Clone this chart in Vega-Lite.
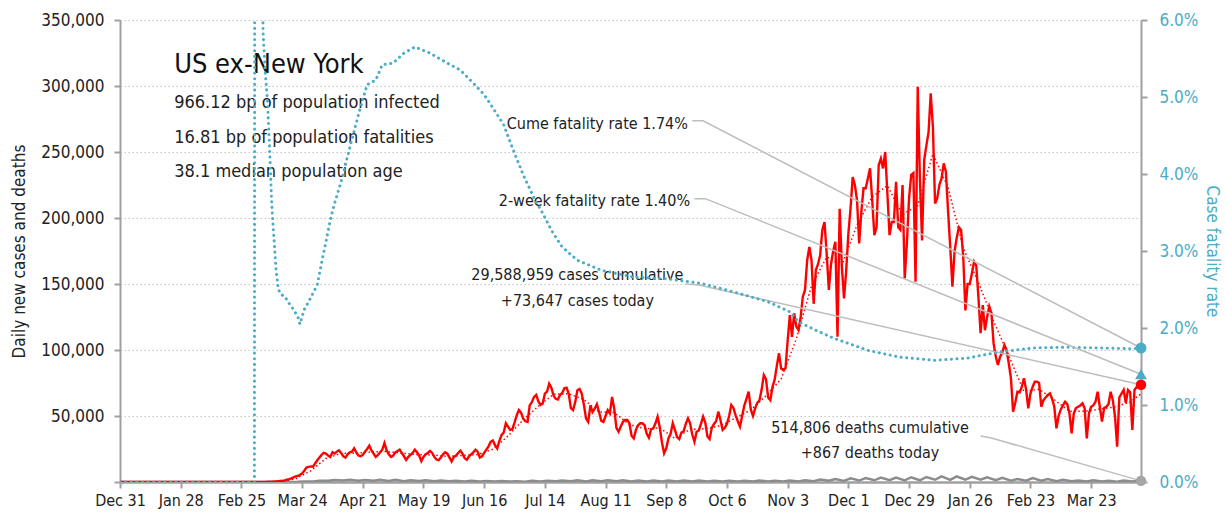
{
  "$schema": "https://vega.github.io/schema/vega-lite/v6.json",
  "width": 1021,
  "height": 462,
  "autosize": {"type": "none"},
  "padding": {"left": 120, "top": 20, "right": 84, "bottom": 40},
  "background": "white",
  "config": {
    "font": "DejaVu Sans Condensed, Liberation Sans, sans-serif",
    "view": {"stroke": null},
    "axis": {
      "labelFont": "DejaVu Sans Condensed, Liberation Sans, sans-serif",
      "titleFont": "DejaVu Sans Condensed, Liberation Sans, sans-serif",
      "labelFontSize": 17,
      "titleFontSize": 17,
      "titleFontWeight": "normal",
      "labelColor": "#222222",
      "titleColor": "#222222",
      "domainColor": "#a0a0a0",
      "tickColor": "#a0a0a0",
      "domainWidth": 2,
      "tickWidth": 2,
      "tickSize": 6
    }
  },
  "datasets": {
    "cases": [
      {"d":"2019-12-31","v":0},{"d":"2020-01-14","v":0},{"d":"2020-01-28","v":0},{"d":"2020-02-11","v":0},{"d":"2020-02-25","v":0},
      {"d":"2020-03-01","v":0},{"d":"2020-03-02","v":10},{"d":"2020-03-03","v":20},{"d":"2020-03-04","v":30},{"d":"2020-03-05","v":40},{"d":"2020-03-06","v":60},{"d":"2020-03-07","v":80},
      {"d":"2020-03-08","v":150},{"d":"2020-03-09","v":200},{"d":"2020-03-10","v":300},{"d":"2020-03-11","v":400},{"d":"2020-03-12","v":500},{"d":"2020-03-13","v":650},{"d":"2020-03-14","v":800},
      {"d":"2020-03-15","v":900},{"d":"2020-03-16","v":1200},{"d":"2020-03-17","v":1700},{"d":"2020-03-18","v":2200},{"d":"2020-03-19","v":2800},{"d":"2020-03-20","v":3500},{"d":"2020-03-21","v":4200},
      {"d":"2020-03-22","v":4600},{"d":"2020-03-23","v":5500},{"d":"2020-03-24","v":6500},{"d":"2020-03-25","v":8500},{"d":"2020-03-26","v":11000},{"d":"2020-03-27","v":11500},{"d":"2020-03-28","v":11800},
      {"d":"2020-03-29","v":11600},{"d":"2020-03-30","v":14000},{"d":"2020-03-31","v":16500},{"d":"2020-04-01","v":18500},{"d":"2020-04-02","v":20500},{"d":"2020-04-03","v":22000},{"d":"2020-04-04","v":21500},
      {"d":"2020-04-05","v":20000},{"d":"2020-04-06","v":19000},{"d":"2020-04-07","v":22500},{"d":"2020-04-08","v":21500},{"d":"2020-04-09","v":23000},{"d":"2020-04-10","v":24000},{"d":"2020-04-11","v":22000},
      {"d":"2020-04-12","v":19500},{"d":"2020-04-13","v":18500},{"d":"2020-04-14","v":21000},{"d":"2020-04-15","v":22500},{"d":"2020-04-16","v":23000},{"d":"2020-04-17","v":25500},{"d":"2020-04-18","v":22500},
      {"d":"2020-04-19","v":20000},{"d":"2020-04-20","v":19500},{"d":"2020-04-21","v":20500},{"d":"2020-04-22","v":23000},{"d":"2020-04-23","v":25000},{"d":"2020-04-24","v":27500},{"d":"2020-04-25","v":24000},
      {"d":"2020-04-26","v":21500},{"d":"2020-04-27","v":19000},{"d":"2020-04-28","v":20500},{"d":"2020-04-29","v":22500},{"d":"2020-04-30","v":24500},{"d":"2020-05-01","v":29500},{"d":"2020-05-02","v":24000},
      {"d":"2020-05-03","v":21000},{"d":"2020-05-04","v":19000},{"d":"2020-05-05","v":20000},{"d":"2020-05-06","v":22500},{"d":"2020-05-07","v":23500},{"d":"2020-05-08","v":24500},{"d":"2020-05-09","v":22000},
      {"d":"2020-05-10","v":19500},{"d":"2020-05-11","v":16800},{"d":"2020-05-12","v":19000},{"d":"2020-05-13","v":20500},{"d":"2020-05-14","v":22000},{"d":"2020-05-15","v":24500},{"d":"2020-05-16","v":22500},
      {"d":"2020-05-17","v":20000},{"d":"2020-05-18","v":15800},{"d":"2020-05-19","v":19000},{"d":"2020-05-20","v":21000},{"d":"2020-05-21","v":22000},{"d":"2020-05-22","v":23500},{"d":"2020-05-23","v":22000},
      {"d":"2020-05-24","v":19000},{"d":"2020-05-25","v":17000},{"d":"2020-05-26","v":16500},{"d":"2020-05-27","v":18500},{"d":"2020-05-28","v":21000},{"d":"2020-05-29","v":22500},{"d":"2020-05-30","v":21500},
      {"d":"2020-05-31","v":18500},{"d":"2020-06-01","v":15600},{"d":"2020-06-02","v":19000},{"d":"2020-06-03","v":20000},{"d":"2020-06-04","v":22000},{"d":"2020-06-05","v":23800},{"d":"2020-06-06","v":21500},
      {"d":"2020-06-07","v":18000},{"d":"2020-06-08","v":16800},{"d":"2020-06-09","v":19500},{"d":"2020-06-10","v":21000},{"d":"2020-06-11","v":22500},{"d":"2020-06-12","v":24500},{"d":"2020-06-13","v":23000},
      {"d":"2020-06-14","v":18500},{"d":"2020-06-15","v":19500},{"d":"2020-06-16","v":22000},{"d":"2020-06-17","v":24500},{"d":"2020-06-18","v":27000},{"d":"2020-06-19","v":30500},{"d":"2020-06-20","v":31500},
      {"d":"2020-06-21","v":28000},{"d":"2020-06-22","v":25500},{"d":"2020-06-23","v":31000},{"d":"2020-06-24","v":35500},{"d":"2020-06-25","v":37500},{"d":"2020-06-26","v":44500},{"d":"2020-06-27","v":42000},
      {"d":"2020-06-28","v":39500},{"d":"2020-06-29","v":40000},{"d":"2020-06-30","v":45000},{"d":"2020-07-01","v":50500},{"d":"2020-07-02","v":54500},{"d":"2020-07-03","v":52500},{"d":"2020-07-04","v":48000},
      {"d":"2020-07-05","v":46000},{"d":"2020-07-06","v":45500},{"d":"2020-07-07","v":58000},{"d":"2020-07-08","v":60500},{"d":"2020-07-09","v":64500},{"d":"2020-07-10","v":66000},{"d":"2020-07-11","v":61000},
      {"d":"2020-07-12","v":58500},{"d":"2020-07-13","v":59500},{"d":"2020-07-14","v":67000},{"d":"2020-07-15","v":68500},{"d":"2020-07-16","v":74500},{"d":"2020-07-17","v":71500},{"d":"2020-07-18","v":65500},
      {"d":"2020-07-19","v":63000},{"d":"2020-07-20","v":62500},{"d":"2020-07-21","v":66000},{"d":"2020-07-22","v":67500},{"d":"2020-07-23","v":71000},{"d":"2020-07-24","v":71500},{"d":"2020-07-25","v":67000},
      {"d":"2020-07-26","v":56000},{"d":"2020-07-27","v":54500},{"d":"2020-07-28","v":60500},{"d":"2020-07-29","v":69500},{"d":"2020-07-30","v":70500},{"d":"2020-07-31","v":67000},{"d":"2020-08-01","v":58500},
      {"d":"2020-08-02","v":48000},{"d":"2020-08-03","v":45500},{"d":"2020-08-04","v":58000},{"d":"2020-08-05","v":53000},{"d":"2020-08-06","v":55500},{"d":"2020-08-07","v":59000},{"d":"2020-08-08","v":53000},
      {"d":"2020-08-09","v":46500},{"d":"2020-08-10","v":45500},{"d":"2020-08-11","v":50000},{"d":"2020-08-12","v":54500},{"d":"2020-08-13","v":52000},{"d":"2020-08-14","v":64500},{"d":"2020-08-15","v":55500},
      {"d":"2020-08-16","v":41000},{"d":"2020-08-17","v":38000},{"d":"2020-08-18","v":42000},{"d":"2020-08-19","v":45500},{"d":"2020-08-20","v":47000},{"d":"2020-08-21","v":47000},{"d":"2020-08-22","v":44500},
      {"d":"2020-08-23","v":35000},{"d":"2020-08-24","v":33000},{"d":"2020-08-25","v":39500},{"d":"2020-08-26","v":43000},{"d":"2020-08-27","v":44500},{"d":"2020-08-28","v":44500},{"d":"2020-08-29","v":43000},
      {"d":"2020-08-30","v":36500},{"d":"2020-08-31","v":33500},{"d":"2020-09-01","v":40000},{"d":"2020-09-02","v":40500},{"d":"2020-09-03","v":44500},{"d":"2020-09-04","v":49500},{"d":"2020-09-05","v":41500},
      {"d":"2020-09-06","v":30000},{"d":"2020-09-07","v":21700},{"d":"2020-09-08","v":25500},{"d":"2020-09-09","v":33000},{"d":"2020-09-10","v":36500},{"d":"2020-09-11","v":44500},{"d":"2020-09-12","v":39500},
      {"d":"2020-09-13","v":34000},{"d":"2020-09-14","v":32500},{"d":"2020-09-15","v":37500},{"d":"2020-09-16","v":38500},{"d":"2020-09-17","v":44000},{"d":"2020-09-18","v":48200},{"d":"2020-09-19","v":44500},
      {"d":"2020-09-20","v":36000},{"d":"2020-09-21","v":30500},{"d":"2020-09-22","v":38000},{"d":"2020-09-23","v":39000},{"d":"2020-09-24","v":44000},{"d":"2020-09-25","v":49500},{"d":"2020-09-26","v":45000},
      {"d":"2020-09-27","v":34500},{"d":"2020-09-28","v":32500},{"d":"2020-09-29","v":41000},{"d":"2020-09-30","v":44000},{"d":"2020-10-01","v":46000},{"d":"2020-10-02","v":53300},{"d":"2020-10-03","v":47000},
      {"d":"2020-10-04","v":39400},{"d":"2020-10-05","v":41000},{"d":"2020-10-06","v":44000},{"d":"2020-10-07","v":50000},{"d":"2020-10-08","v":58300},{"d":"2020-10-09","v":56000},{"d":"2020-10-10","v":50500},
      {"d":"2020-10-11","v":46000},{"d":"2020-10-12","v":41900},{"d":"2020-10-13","v":50000},{"d":"2020-10-14","v":58000},{"d":"2020-10-15","v":63000},{"d":"2020-10-16","v":68400},{"d":"2020-10-17","v":55000},
      {"d":"2020-10-18","v":50000},{"d":"2020-10-19","v":55800},{"d":"2020-10-20","v":60000},{"d":"2020-10-21","v":62000},{"d":"2020-10-22","v":70000},{"d":"2020-10-23","v":81000},{"d":"2020-10-24","v":78000},
      {"d":"2020-10-25","v":64000},{"d":"2020-10-26","v":62000},{"d":"2020-10-27","v":72000},{"d":"2020-10-28","v":77500},{"d":"2020-10-29","v":88000},{"d":"2020-10-30","v":97500},{"d":"2020-10-31","v":86000},
      {"d":"2020-11-01","v":84800},{"d":"2020-11-02","v":86000},{"d":"2020-11-03","v":107000},{"d":"2020-11-04","v":126500},{"d":"2020-11-05","v":110000},{"d":"2020-11-06","v":127800},{"d":"2020-11-07","v":117700},
      {"d":"2020-11-08","v":115000},{"d":"2020-11-09","v":125000},{"d":"2020-11-10","v":140400},{"d":"2020-11-11","v":145500},{"d":"2020-11-12","v":168000},{"d":"2020-11-13","v":178000},{"d":"2020-11-14","v":168000},
      {"d":"2020-11-15","v":135000},{"d":"2020-11-16","v":160600},{"d":"2020-11-17","v":165000},{"d":"2020-11-18","v":172000},{"d":"2020-11-19","v":190900},{"d":"2020-11-20","v":197000},{"d":"2020-11-21","v":173000},
      {"d":"2020-11-22","v":145500},{"d":"2020-11-23","v":165000},{"d":"2020-11-24","v":175000},{"d":"2020-11-25","v":182000},{"d":"2020-11-26","v":110000},{"d":"2020-11-27","v":207000},{"d":"2020-11-28","v":163000},
      {"d":"2020-11-29","v":139000},{"d":"2020-11-30","v":160000},{"d":"2020-12-01","v":188000},{"d":"2020-12-02","v":207000},{"d":"2020-12-03","v":231000},{"d":"2020-12-04","v":225000},{"d":"2020-12-05","v":213600},
      {"d":"2020-12-06","v":180800},{"d":"2020-12-07","v":205000},{"d":"2020-12-08","v":222500},{"d":"2020-12-09","v":222500},{"d":"2020-12-10","v":230000},{"d":"2020-12-11","v":237600},{"d":"2020-12-12","v":213600},
      {"d":"2020-12-13","v":187000},{"d":"2020-12-14","v":193000},{"d":"2020-12-15","v":240000},{"d":"2020-12-16","v":245000},{"d":"2020-12-17","v":237600},{"d":"2020-12-18","v":250000},{"d":"2020-12-19","v":218700},
      {"d":"2020-12-20","v":187000},{"d":"2020-12-21","v":197000},{"d":"2020-12-22","v":197000},{"d":"2020-12-23","v":227500},{"d":"2020-12-24","v":193000},{"d":"2020-12-25","v":191000},{"d":"2020-12-26","v":225000},
      {"d":"2020-12-27","v":154000},{"d":"2020-12-28","v":181000},{"d":"2020-12-29","v":215000},{"d":"2020-12-30","v":232600},{"d":"2020-12-31","v":234000},{"d":"2021-01-01","v":151700},{"d":"2021-01-02","v":299500},
      {"d":"2021-01-03","v":230000},{"d":"2021-01-04","v":183000},{"d":"2021-01-05","v":244000},{"d":"2021-01-06","v":255000},{"d":"2021-01-07","v":265000},{"d":"2021-01-08","v":294500},{"d":"2021-01-09","v":269000},
      {"d":"2021-01-10","v":211000},{"d":"2021-01-11","v":215000},{"d":"2021-01-12","v":225000},{"d":"2021-01-13","v":230000},{"d":"2021-01-14","v":241400},{"d":"2021-01-15","v":235000},{"d":"2021-01-16","v":205000},
      {"d":"2021-01-17","v":178000},{"d":"2021-01-18","v":148000},{"d":"2021-01-19","v":175000},{"d":"2021-01-20","v":185000},{"d":"2021-01-21","v":193000},{"d":"2021-01-22","v":191000},{"d":"2021-01-23","v":170700},
      {"d":"2021-01-24","v":130000},{"d":"2021-01-25","v":150000},{"d":"2021-01-26","v":150000},{"d":"2021-01-27","v":158000},{"d":"2021-01-28","v":166900},{"d":"2021-01-29","v":164000},{"d":"2021-01-30","v":140000},
      {"d":"2021-01-31","v":112700},{"d":"2021-02-01","v":134000},{"d":"2021-02-02","v":115000},{"d":"2021-02-03","v":125000},{"d":"2021-02-04","v":133000},{"d":"2021-02-05","v":128000},{"d":"2021-02-06","v":105000},
      {"d":"2021-02-07","v":95000},{"d":"2021-02-08","v":88600},{"d":"2021-02-09","v":95000},{"d":"2021-02-10","v":98000},{"d":"2021-02-11","v":103800},{"d":"2021-02-12","v":100000},{"d":"2021-02-13","v":90000},
      {"d":"2021-02-14","v":78600},{"d":"2021-02-15","v":53300},{"d":"2021-02-16","v":60000},{"d":"2021-02-17","v":68400},{"d":"2021-02-18","v":68000},{"d":"2021-02-19","v":72000},{"d":"2021-02-20","v":78600},
      {"d":"2021-02-21","v":70000},{"d":"2021-02-22","v":55800},{"d":"2021-02-23","v":67000},{"d":"2021-02-24","v":72000},{"d":"2021-02-25","v":76000},{"d":"2021-02-26","v":76000},{"d":"2021-02-27","v":75000},
      {"d":"2021-02-28","v":57000},{"d":"2021-03-01","v":62000},{"d":"2021-03-02","v":64000},{"d":"2021-03-03","v":66000},{"d":"2021-03-04","v":67200},{"d":"2021-03-05","v":63000},{"d":"2021-03-06","v":57000},
      {"d":"2021-03-07","v":40700},{"d":"2021-03-08","v":50000},{"d":"2021-03-09","v":55000},{"d":"2021-03-10","v":58000},{"d":"2021-03-11","v":60800},{"d":"2021-03-12","v":59000},{"d":"2021-03-13","v":52000},
      {"d":"2021-03-14","v":36900},{"d":"2021-03-15","v":52000},{"d":"2021-03-16","v":56000},{"d":"2021-03-17","v":57000},{"d":"2021-03-18","v":58000},{"d":"2021-03-19","v":59600},{"d":"2021-03-20","v":55800},
      {"d":"2021-03-21","v":33100},{"d":"2021-03-22","v":52000},{"d":"2021-03-23","v":57000},{"d":"2021-03-24","v":58000},{"d":"2021-03-25","v":60800},{"d":"2021-03-26","v":68400},{"d":"2021-03-27","v":57000},
      {"d":"2021-03-28","v":45700},{"d":"2021-03-29","v":56000},{"d":"2021-03-30","v":57000},{"d":"2021-03-31","v":59000},{"d":"2021-04-01","v":68400},{"d":"2021-04-02","v":62000},{"d":"2021-04-03","v":50000},
      {"d":"2021-04-04","v":26800},{"d":"2021-04-05","v":64000},{"d":"2021-04-06","v":67000},{"d":"2021-04-07","v":69700},{"d":"2021-04-08","v":60000},{"d":"2021-04-09","v":69700},{"d":"2021-04-10","v":68000},
      {"d":"2021-04-11","v":39400},{"d":"2021-04-12","v":69700},{"d":"2021-04-13","v":72000},{"d":"2021-04-14","v":74800},{"d":"2021-04-15","v":73647}
    ],
    "avg": [
      {"d":"2019-12-31","v":0},{"d":"2020-02-29","v":0},{"d":"2020-03-07","v":34},{"d":"2020-03-14","v":430},{"d":"2020-03-21","v":2360},{"d":"2020-03-28","v":8490},{"d":"2020-04-04","v":17800},{"d":"2020-04-11","v":21700},{"d":"2020-04-18","v":21800},{"d":"2020-04-25","v":22800},{"d":"2020-05-02","v":23100},{"d":"2020-05-09","v":21800},{"d":"2020-05-16","v":20700},{"d":"2020-05-23","v":20500},{"d":"2020-05-30","v":19400},{"d":"2020-06-06","v":20100},{"d":"2020-06-13","v":20800},{"d":"2020-06-20","v":24800},{"d":"2020-06-27","v":34900},{"d":"2020-07-04","v":47100},{"d":"2020-07-11","v":57400},{"d":"2020-07-18","v":66400},{"d":"2020-07-25","v":66900},{"d":"2020-08-01","v":62400},{"d":"2020-08-08","v":53100},{"d":"2020-08-15","v":52600},{"d":"2020-08-22","v":43600},{"d":"2020-08-29","v":40400},{"d":"2020-09-05","v":40900},{"d":"2020-09-12","v":33000},{"d":"2020-09-19","v":39900},{"d":"2020-09-26","v":40300},{"d":"2020-10-03","v":42600},{"d":"2020-10-10","v":48500},{"d":"2020-10-17","v":54600},{"d":"2020-10-24","v":65300},{"d":"2020-10-31","v":78100},{"d":"2020-11-07","v":108500},{"d":"2020-11-14","v":148600},{"d":"2020-11-21","v":170500},{"d":"2020-11-28","v":163900},{"d":"2020-12-05","v":194800},{"d":"2020-12-12","v":216000},{"d":"2020-12-19","v":224500},{"d":"2020-12-26","v":202500},{"d":"2021-01-02","v":209700},{"d":"2021-01-09","v":248600},{"d":"2021-01-16","v":223200},{"d":"2021-01-23","v":177200},{"d":"2021-01-30","v":151300},{"d":"2021-02-06","v":121800},{"d":"2021-02-13","v":95800},{"d":"2021-02-20","v":68400},{"d":"2021-02-27","v":70300},{"d":"2021-03-06","v":62300},{"d":"2021-03-13","v":53600},{"d":"2021-03-20","v":53600},{"d":"2021-03-27","v":55200},{"d":"2021-04-03","v":56900},{"d":"2021-04-10","v":60700},{"d":"2021-04-15","v":66700}
    ],
    "deaths": [
      {"d":"2019-12-31","v":0},{"d":"2020-03-01","v":0},{"d":"2020-03-08","v":5},{"d":"2020-03-15","v":20},{"d":"2020-03-18","v":60},{"d":"2020-03-22","v":120},{"d":"2020-03-25","v":300},{"d":"2020-03-29","v":450},{"d":"2020-04-01","v":900},{"d":"2020-04-05","v":900},{"d":"2020-04-08","v":1500},{"d":"2020-04-12","v":1100},{"d":"2020-04-15","v":1700},{"d":"2020-04-19","v":1000},{"d":"2020-04-22","v":1600},{"d":"2020-04-26","v":900},{"d":"2020-04-29","v":1700},{"d":"2020-05-03","v":800},{"d":"2020-05-06","v":1600},{"d":"2020-05-10","v":650},{"d":"2020-05-13","v":1400},{"d":"2020-05-17","v":700},{"d":"2020-05-20","v":1300},{"d":"2020-05-24","v":600},{"d":"2020-05-27","v":1100},{"d":"2020-05-31","v":550},{"d":"2020-06-03","v":900},{"d":"2020-06-07","v":450},{"d":"2020-06-10","v":850},{"d":"2020-06-14","v":350},{"d":"2020-06-17","v":700},{"d":"2020-06-21","v":300},{"d":"2020-06-24","v":700},{"d":"2020-06-28","v":300},{"d":"2020-07-01","v":650},{"d":"2020-07-05","v":250},{"d":"2020-07-08","v":850},{"d":"2020-07-12","v":450},{"d":"2020-07-15","v":950},{"d":"2020-07-19","v":550},{"d":"2020-07-22","v":1100},{"d":"2020-07-26","v":500},{"d":"2020-07-29","v":1400},{"d":"2020-08-02","v":450},{"d":"2020-08-05","v":1300},{"d":"2020-08-09","v":500},{"d":"2020-08-12","v":1400},{"d":"2020-08-16","v":500},{"d":"2020-08-19","v":1300},{"d":"2020-08-23","v":400},{"d":"2020-08-26","v":1200},{"d":"2020-08-30","v":400},{"d":"2020-09-02","v":1050},{"d":"2020-09-06","v":400},{"d":"2020-09-09","v":1100},{"d":"2020-09-13","v":400},{"d":"2020-09-16","v":1100},{"d":"2020-09-20","v":300},{"d":"2020-09-23","v":1050},{"d":"2020-09-27","v":300},{"d":"2020-09-30","v":950},{"d":"2020-10-04","v":350},{"d":"2020-10-07","v":900},{"d":"2020-10-11","v":400},{"d":"2020-10-14","v":950},{"d":"2020-10-18","v":400},{"d":"2020-10-21","v":1100},{"d":"2020-10-25","v":450},{"d":"2020-10-28","v":1000},{"d":"2020-11-01","v":400},{"d":"2020-11-04","v":1100},{"d":"2020-11-08","v":450},{"d":"2020-11-11","v":1400},{"d":"2020-11-15","v":600},{"d":"2020-11-18","v":1900},{"d":"2020-11-22","v":900},{"d":"2020-11-25","v":2200},{"d":"2020-11-29","v":800},{"d":"2020-12-02","v":2800},{"d":"2020-12-06","v":1100},{"d":"2020-12-09","v":3000},{"d":"2020-12-13","v":1300},{"d":"2020-12-16","v":3400},{"d":"2020-12-20","v":1400},{"d":"2020-12-23","v":3300},{"d":"2020-12-27","v":1200},{"d":"2020-12-30","v":3600},{"d":"2021-01-03","v":1300},{"d":"2021-01-06","v":3800},{"d":"2021-01-10","v":1700},{"d":"2021-01-13","v":4200},{"d":"2021-01-17","v":1600},{"d":"2021-01-20","v":4200},{"d":"2021-01-24","v":1800},{"d":"2021-01-27","v":3900},{"d":"2021-01-31","v":1800},{"d":"2021-02-03","v":3600},{"d":"2021-02-07","v":1300},{"d":"2021-02-10","v":3200},{"d":"2021-02-14","v":1000},{"d":"2021-02-17","v":2200},{"d":"2021-02-21","v":1000},{"d":"2021-02-24","v":2900},{"d":"2021-02-28","v":1000},{"d":"2021-03-03","v":2200},{"d":"2021-03-07","v":600},{"d":"2021-03-10","v":1700},{"d":"2021-03-14","v":500},{"d":"2021-03-17","v":1200},{"d":"2021-03-21","v":400},{"d":"2021-03-24","v":1400},{"d":"2021-03-28","v":400},{"d":"2021-03-31","v":1000},{"d":"2021-04-04","v":200},{"d":"2021-04-07","v":1100},{"d":"2021-04-11","v":350},{"d":"2021-04-14","v":900},{"d":"2021-04-15","v":867}
    ],
    "cfr": [
      {"d":"2019-12-31","r":0},{"d":"2020-01-28","r":0},{"d":"2020-02-25","r":0},{"d":"2020-03-02","r":0},{"d":"2020-03-03","r":0.5},{"d":"2020-03-04","r":0.15},{"d":"2020-03-05","r":0.08},{"d":"2020-03-06","r":0.0583},{"d":"2020-03-07","r":0.0532},{"d":"2020-03-08","r":0.0496},{"d":"2020-03-09","r":0.0434},{"d":"2020-03-10","r":0.036},{"d":"2020-03-11","r":0.0317},{"d":"2020-03-12","r":0.0275},{"d":"2020-03-13","r":0.0251},{"d":"2020-03-14","r":0.0244},{"d":"2020-03-16","r":0.0241},{"d":"2020-03-18","r":0.0232},{"d":"2020-03-20","r":0.0224},{"d":"2020-03-22","r":0.0215},{"d":"2020-03-23","r":0.0205},{"d":"2020-03-25","r":0.0224},{"d":"2020-03-27","r":0.0234},{"d":"2020-03-29","r":0.0245},{"d":"2020-03-31","r":0.0256},{"d":"2020-04-02","r":0.0285},{"d":"2020-04-04","r":0.0312},{"d":"2020-04-06","r":0.034},{"d":"2020-04-08","r":0.0362},{"d":"2020-04-11","r":0.039},{"d":"2020-04-15","r":0.0434},{"d":"2020-04-19","r":0.0477},{"d":"2020-04-23","r":0.0516},{"d":"2020-04-27","r":0.0522},{"d":"2020-04-30","r":0.0542},{"d":"2020-05-05","r":0.0544},{"d":"2020-05-10","r":0.0557},{"d":"2020-05-15","r":0.0565},{"d":"2020-05-22","r":0.0557},{"d":"2020-05-30","r":0.0544},{"d":"2020-06-05","r":0.0535},{"d":"2020-06-11","r":0.0518},{"d":"2020-06-16","r":0.0503},{"d":"2020-06-20","r":0.0486},{"d":"2020-06-25","r":0.0464},{"d":"2020-06-29","r":0.0434},{"d":"2020-07-04","r":0.0399},{"d":"2020-07-09","r":0.0369},{"d":"2020-07-13","r":0.0349},{"d":"2020-07-17","r":0.0327},{"d":"2020-07-22","r":0.0305},{"d":"2020-07-29","r":0.0288},{"d":"2020-08-09","r":0.0275},{"d":"2020-08-24","r":0.0266},{"d":"2020-09-08","r":0.0264},{"d":"2020-09-24","r":0.0258},{"d":"2020-10-09","r":0.0247},{"d":"2020-10-25","r":0.0234},{"d":"2020-11-04","r":0.0221},{"d":"2020-11-08","r":0.0208},{"d":"2020-11-16","r":0.0197},{"d":"2020-11-24","r":0.0187},{"d":"2020-12-10","r":0.0171},{"d":"2020-12-25","r":0.0162},{"d":"2021-01-10","r":0.0158},{"d":"2021-01-25","r":0.0161},{"d":"2021-02-09","r":0.0169},{"d":"2021-02-24","r":0.0174},{"d":"2021-03-12","r":0.0175},{"d":"2021-03-27","r":0.0174},{"d":"2021-04-11","r":0.0173},{"d":"2021-04-15","r":0.0174}
    ],
    "connV": [
      {"g":"cases","d":"2020-09-17","v":150000},{"g":"cases","d":"2020-09-23","v":149200},{"g":"cases","d":"2021-04-15","v":73647},
      {"g":"deaths","d":"2021-01-31","v":34800},{"g":"deaths","d":"2021-02-05","v":33300},{"g":"deaths","d":"2021-04-15","v":867}
    ],
    "connR": [
      {"g":"cume","d":"2020-09-20","r":0.0469},{"g":"cume","d":"2020-09-25","r":0.0469},{"g":"cume","d":"2021-04-15","r":0.0174},
      {"g":"twoweek","d":"2020-09-21","r":0.0368},{"g":"twoweek","d":"2020-09-26","r":0.0368},{"g":"twoweek","d":"2021-04-15","r":0.014}
    ],
    "textRight": [
      {"d":"2020-09-18","v":267600,"t":"Cume fatality rate 1.74%"},
      {"d":"2020-09-19","v":209100,"t":"2-week fatality rate 1.40%"}
    ],
    "textCenter": [
      {"d":"2020-07-29","v":153000,"t":"29,588,959 cases cumulative"},
      {"d":"2020-07-29","v":133300,"t":"+73,647 cases today"},
      {"d":"2020-12-11","v":37400,"t":"514,806 deaths cumulative"},
      {"d":"2020-12-11","v":18000,"t":"+867 deaths today"}
    ],
    "titleText": [
      {"d":"2020-01-25","v":309900,"t":"US ex-New York"}
    ],
    "subText": [
      {"d":"2020-01-25","v":283000,"t":"966.12 bp of population infected"},
      {"d":"2020-01-25","v":257000,"t":"16.81 bp of population fatalities"},
      {"d":"2020-01-25","v":231300,"t":"38.1 median population age"}
    ]
  },
  "encoding": {
    "x": {
      "field": "d",
      "type": "temporal",
      "title": null,
      "scale": {
        "type": "utc",
        "domain": [{"year": 2019, "month": 12, "date": 31, "utc": true}, {"year": 2021, "month": 4, "date": 15, "utc": true}]
      },
      "axis": {
        "values": [
          {"year": 2019, "month": 12, "date": 31, "utc": true},
          {"year": 2020, "month": 1, "date": 28, "utc": true},
          {"year": 2020, "month": 2, "date": 25, "utc": true},
          {"year": 2020, "month": 3, "date": 24, "utc": true},
          {"year": 2020, "month": 4, "date": 21, "utc": true},
          {"year": 2020, "month": 5, "date": 19, "utc": true},
          {"year": 2020, "month": 6, "date": 16, "utc": true},
          {"year": 2020, "month": 7, "date": 14, "utc": true},
          {"year": 2020, "month": 8, "date": 11, "utc": true},
          {"year": 2020, "month": 9, "date": 8, "utc": true},
          {"year": 2020, "month": 10, "date": 6, "utc": true},
          {"year": 2020, "month": 11, "date": 3, "utc": true},
          {"year": 2020, "month": 12, "date": 1, "utc": true},
          {"year": 2020, "month": 12, "date": 29, "utc": true},
          {"year": 2021, "month": 1, "date": 26, "utc": true},
          {"year": 2021, "month": 2, "date": 23, "utc": true},
          {"year": 2021, "month": 3, "date": 23, "utc": true}
        ],
        "labelExpr": "utcFormat(datum.value, '%b %-d')",
        "labelFontSize": 16,
        "title": null,
        "grid": false,
        "labelPadding": 4,
        "labelOverlap": false,
        "labelFlush": false,
        "domainWidth": 2.5
      }
    }
  },
  "layer": [
    {
      "encoding": {
        "y": {
          "field": "v",
          "type": "quantitative",
          "title": "Daily new cases and deaths",
          "scale": {"domain": [0, 350000], "nice": false},
          "axis": {
            "title": "Daily new cases and deaths",
            "values": [0, 50000, 100000, 150000, 200000, 250000, 300000, 350000],
            "labelExpr": "datum.value == 0 ? '' : format(datum.value, ',d')",
            "grid": true,
            "gridDash": [1.5, 2.5],
            "gridColor": "#c4c4c4",
            "gridWidth": 1,
            "labelPadding": 10,
            "titlePadding": 12
          }
        }
      },
      "layer": [
        {"data": {"name": "deaths"}, "mark": {"type": "line", "color": "#8c8c8c", "strokeWidth": 2.5, "clip": true}},
        {"data": {"name": "avg"}, "mark": {"type": "line", "color": "#ff0000", "strokeWidth": 1.5, "strokeDash": [1.5, 2.5], "clip": true}},
        {"data": {"name": "cases"}, "mark": {"type": "line", "color": "#ff0000", "strokeWidth": 2.4, "clip": true}},
        {"data": {"name": "connV"}, "mark": {"type": "line", "color": "#bdbdbd", "strokeWidth": 1.5}, "encoding": {"detail": {"field": "g"}}},
        {"data": {"values": [{"d": "2021-04-15", "v": 73647}]}, "mark": {"type": "point", "shape": "circle", "filled": true, "color": "#ff0000", "size": 110, "opacity": 1}},
        {"data": {"values": [{"d": "2021-04-15", "v": 867}]}, "mark": {"type": "point", "shape": "circle", "filled": true, "color": "#a6a6a6", "size": 110, "opacity": 1}},
        {"data": {"name": "titleText"}, "mark": {"type": "text", "align": "left", "baseline": "alphabetic", "fontSize": 27, "color": "#111111"}, "encoding": {"text": {"field": "t"}}},
        {"data": {"name": "subText"}, "mark": {"type": "text", "align": "left", "baseline": "alphabetic", "fontSize": 18, "color": "#222222"}, "encoding": {"text": {"field": "t"}}},
        {"data": {"name": "textRight"}, "mark": {"type": "text", "align": "right", "baseline": "alphabetic", "fontSize": 16, "color": "#222222"}, "encoding": {"text": {"field": "t"}}},
        {"data": {"name": "textCenter"}, "mark": {"type": "text", "align": "center", "baseline": "alphabetic", "fontSize": 16, "color": "#222222"}, "encoding": {"text": {"field": "t"}}}
      ]
    },
    {
      "encoding": {
        "y": {
          "field": "r",
          "type": "quantitative",
          "title": "Case fatality rate",
          "scale": {"domain": [0, 0.06], "nice": false},
          "axis": {
            "orient": "right",
            "title": "Case fatality rate",
            "values": [0, 0.01, 0.02, 0.03, 0.04, 0.05, 0.06],
            "format": ".1%",
            "grid": false,
            "labelColor": "#4bacc6",
            "titleColor": "#4bacc6",
            "labelPadding": 12,
            "titlePadding": 5
          }
        }
      },
      "layer": [
        {"data": {"name": "cfr"}, "mark": {"type": "line", "color": "#4bacc6", "strokeWidth": 3, "strokeDash": [0.1, 5.5], "strokeCap": "round", "clip": true}},
        {"data": {"name": "connR"}, "mark": {"type": "line", "color": "#bdbdbd", "strokeWidth": 1.5}, "encoding": {"detail": {"field": "g"}}},
        {"data": {"values": [{"d": "2021-04-15", "r": 0.0174}]}, "mark": {"type": "point", "shape": "circle", "filled": true, "color": "#4bacc6", "size": 120, "opacity": 1}},
        {"data": {"values": [{"d": "2021-04-15", "r": 0.014}]}, "mark": {"type": "point", "shape": "triangle-up", "filled": true, "color": "#4bacc6", "size": 140, "opacity": 1}}
      ]
    }
  ],
  "resolve": {"scale": {"y": "independent"}}
}
